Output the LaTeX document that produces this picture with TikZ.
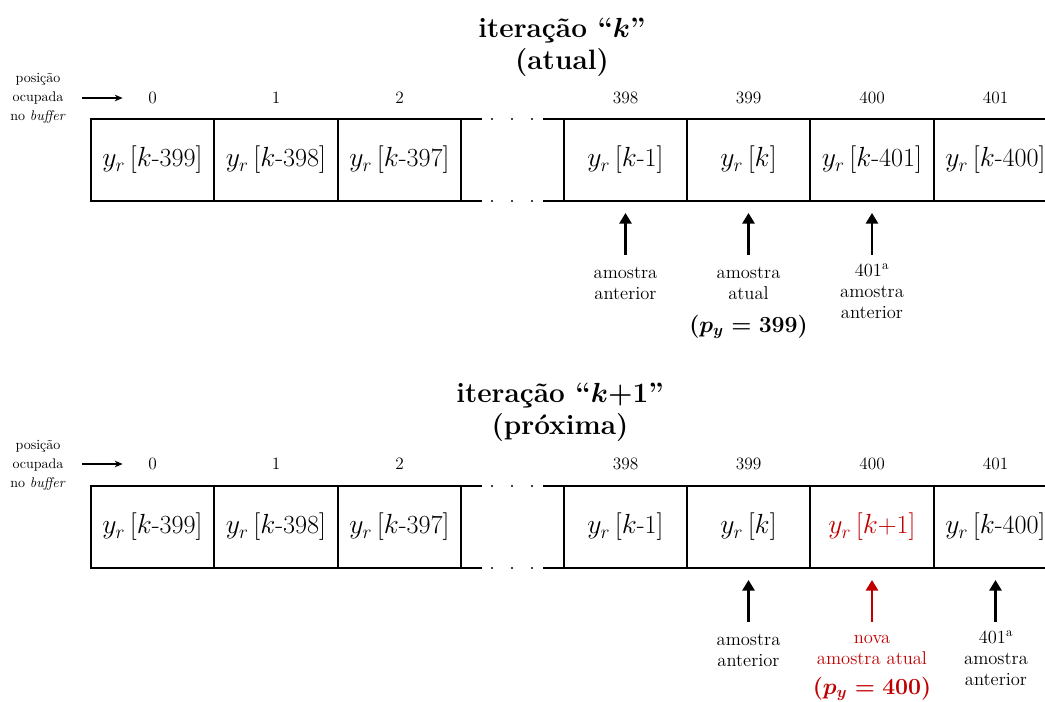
\documentclass[tikz,border=0pt]{standalone}
\usepackage{fontspec}
\usepackage{bm}
\usetikzlibrary{arrows.meta}
\definecolor{myred}{RGB}{192,0,0}
\tikzset{
  cellbox/.style={inner sep=0pt, minimum width=92pt, minimum height=61pt, font=\fontsize{19.6}{23}\selectfont},
  gridline/.style={line width=1.5pt, line join=miter},
  posnum/.style={inner sep=0pt, font=\fontsize{13}{16}\selectfont},
  note/.style={inner sep=0pt, align=center, font=\fontsize{13.9}{15.75}\selectfont},
  pynote/.style={inner sep=0pt, font=\fontsize{16.6}{19}\selectfont\boldmath},
  titlenode/.style={inner sep=0pt, align=center, font=\fontsize{21}{24}\selectfont\bfseries},
  posnote/.style={inner sep=0pt, align=center, font=\fontsize{10.5}{14.25}\selectfont},
  bigarrow/.style={line width=2.2pt, -{Triangle[length=8pt,width=9pt]}},
  smallarrow/.style={line width=1pt, -{Stealth[length=6pt,width=5pt]}},
}
\newcommand{\rowgrid}[2]{%
  \draw[gridline] (482,#1) -- (91,#1) -- (91,#2) -- (482,#2);
  \draw[gridline] (543,#1) -- (1046,#1);
  \draw[gridline] (543,#2) -- (1046,#2);
  \foreach \xx in {214,338,461,564,687,810,934} \draw[gridline] (\xx,#1) -- (\xx,#2);
  \foreach \xx in {492,512,532} {\fill (\xx,#1) circle (0.9pt); \fill (\xx,#2) circle (0.9pt);}
}
\begin{document}
\begin{tikzpicture}[x=0.75pt,y=-0.75pt]
\useasboundingbox (0,0) rectangle (1045,702);

% ---------- top: iteration k ----------
\node[titlenode] (t1) at (562,47) {itera\c{c}\~ao ``$\bm{k}$''\\(atual)};
\node[posnote] (p1) at (38,98) {posi\c{c}\~ao\\ocupada\\no \textit{buffer}};

\node[posnum] (n10) at (152.5,98) {0};
\node[posnum] (n11) at (276,98) {1};
\node[posnum] (n12) at (399.5,98) {2};
\node[posnum] (n13) at (625.5,98) {398};
\node[posnum] (n14) at (748.5,98) {399};
\node[posnum] (n15) at (872,98) {400};
\node[posnum] (n16) at (995.5,98) {401};
\draw[smallarrow, shorten <=12pt, shorten >=19pt] (p1.east |- n10) -- (n10.west);

\rowgrid{119}{201}
\node[cellbox] (a0) at (152.5,160) {$y_r\,[k$-399$]$};
\node[cellbox] (a1) at (276,160) {$y_r\,[k$-398$]$};
\node[cellbox] (a2) at (399.5,160) {$y_r\,[k$-397$]$};
\node[cellbox] (a3) at (625.5,160) {$y_r\,[k$-1$]$};
\node[cellbox] (a4) at (748.5,160) {$y_r\,[k]$};
\node[cellbox] (a5) at (872,160) {$y_r\,[k$-401$]$};
\node[cellbox] (a6) at (995.5,160) {$y_r\,[k$-400$]$};

\draw[bigarrow] ([yshift=-40.5pt]a3.south) -- ([yshift=-9pt]a3.south);
\draw[bigarrow] ([yshift=-40.5pt]a4.south) -- ([yshift=-9pt]a4.south);
\draw[bigarrow] ([yshift=-40.5pt]a5.south) -- ([yshift=-9pt]a5.south);

\node[note] (l13) at (625.5,283) {amostra\\anterior};
\node[note] (l14) at (748.5,283) {amostra\\atual};
\node[pynote] (y1) at (748.5,327) {$(p_y = 399)$};
\node[note] (l15) at (872,291) {401\textsuperscript{a}\\amostra\\anterior};

% ---------- bottom: iteration k+1 ----------
\node[titlenode] (t2) at (560,412) {itera\c{c}\~ao ``$\bm{k}$+1''\\(pr\'oxima)};
\node[posnote] (p2) at (38,465) {posi\c{c}\~ao\\ocupada\\no \textit{buffer}};

\node[posnum] (n20) at (152.5,464) {0};
\node[posnum] (n21) at (276,464) {1};
\node[posnum] (n22) at (399.5,464) {2};
\node[posnum] (n23) at (625.5,464) {398};
\node[posnum] (n24) at (748.5,464) {399};
\node[posnum] (n25) at (872,464) {400};
\node[posnum] (n26) at (995.5,464) {401};
\draw[smallarrow, shorten <=12pt, shorten >=19pt] (p2.east |- n20) -- (n20.west);

\rowgrid{486}{568}
\node[cellbox] (b0) at (152.5,527) {$y_r\,[k$-399$]$};
\node[cellbox] (b1) at (276,527) {$y_r\,[k$-398$]$};
\node[cellbox] (b2) at (399.5,527) {$y_r\,[k$-397$]$};
\node[cellbox] (b3) at (625.5,527) {$y_r\,[k$-1$]$};
\node[cellbox] (b4) at (748.5,527) {$y_r\,[k]$};
\node[cellbox, text=myred] (b5) at (872,527) {$y_r\,[k$+1$]$};
\node[cellbox] (b6) at (995.5,527) {$y_r\,[k$-400$]$};

\draw[bigarrow] ([yshift=-40.5pt]b4.south) -- ([yshift=-9pt]b4.south);
\draw[bigarrow, myred] ([yshift=-40.5pt]b5.south) -- ([yshift=-9pt]b5.south);
\draw[bigarrow] ([yshift=-40.5pt]b6.south) -- ([yshift=-9pt]b6.south);

\node[note] (l24) at (748.5,650) {amostra\\anterior};
\node[note, text=myred] (l25) at (872,650) {nova\\amostra atual};
\node[pynote, text=myred] (y2) at (872,689) {$(p_y = 400)$};
\node[note] (l26) at (996,658) {401\textsuperscript{a}\\amostra\\anterior};
\end{tikzpicture}
\end{document}
